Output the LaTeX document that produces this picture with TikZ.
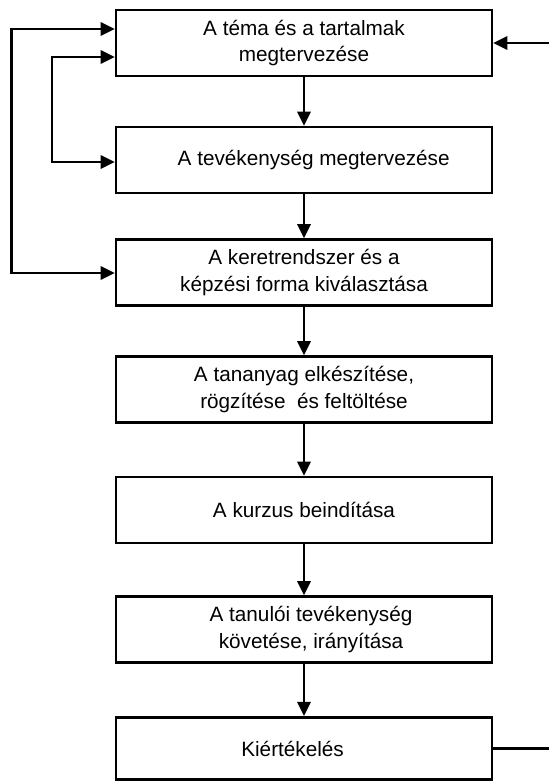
\documentclass[tikz,border=0pt]{standalone}
\usepackage{fontspec}
\setmainfont{Liberation Sans}
\usetikzlibrary{calc}
\usetikzlibrary{arrows.meta}

\begin{document}
\begin{tikzpicture}[x=0.02cm,y=-0.02cm,
  lepes/.style={draw,line width=1.5pt,minimum width=7.52cm,minimum height=1.32cm,
    inner sep=0pt,align=center,font=\fontsize{11.8}{15.3}\selectfont},
  nyil/.style={line width=1.5pt,-{Triangle[length=8pt,width=7.5pt]}},
  ketnyil/.style={line width=1.5pt,{Triangle[length=8pt,width=7.5pt]}-{Triangle[length=8pt,width=7.5pt]}}]
  \useasboundingbox (0,0) rectangle (549,781);

  \node [lepes] (tema) at (304,43) {A téma és a tartalmak\\megtervezése};
  \node [lepes] (tev) at (304,160) {\hspace*{11pt}A tevékenység megtervezése};
  \node [lepes] (keret) at (304,272.5) {A keretrendszer és a\\képzési forma kiválasztása};
  \node [lepes] (anyag) at (304,389.5) {A tananyag elkészítése,\\ rögzítése\ \ és feltöltése};
  \node [lepes] (kurzus) at (304,510) {A kurzus beindítása};
  \node [lepes] (kovet) at (304,629.5) {\hspace*{8pt}A tanulói tevékenység\\\hspace*{8pt}követése, irányítása};
  \node [lepes,minimum height=1.25cm] (ert) at (304,748.5) {Kiértékelés\hspace*{13pt}};

  \coordinate (kulso1) at (11.5,29);
  \coordinate (kulso3) at (11.5,273);
  \coordinate (belso1) at (52,57);
  \coordinate (belso2) at (52,162);
  \coordinate (jobbfent) at (549,43);
  \coordinate (jobblent) at (549,748.5);

  \draw [nyil] (tema) -- (tev);
  \draw [nyil] (tev) -- (keret);
  \draw [nyil] (keret) -- (anyag);
  \draw [nyil] (anyag) -- (kurzus);
  \draw [nyil] (kurzus) -- (kovet);
  \draw [nyil] (kovet) -- (ert);

  \draw [ketnyil] (tema.west |- kulso1) -- (kulso1) -- (kulso3) -- (keret.west |- kulso3);
  \draw [ketnyil] (tema.west |- belso1) -- (belso1) -- (belso2) -- (tev.west |- belso2);
  \draw [nyil] (jobbfent) -- (tema.east);
  \draw [line width=1.5pt] (ert.east) -- (jobblent);
\end{tikzpicture}
\end{document}
